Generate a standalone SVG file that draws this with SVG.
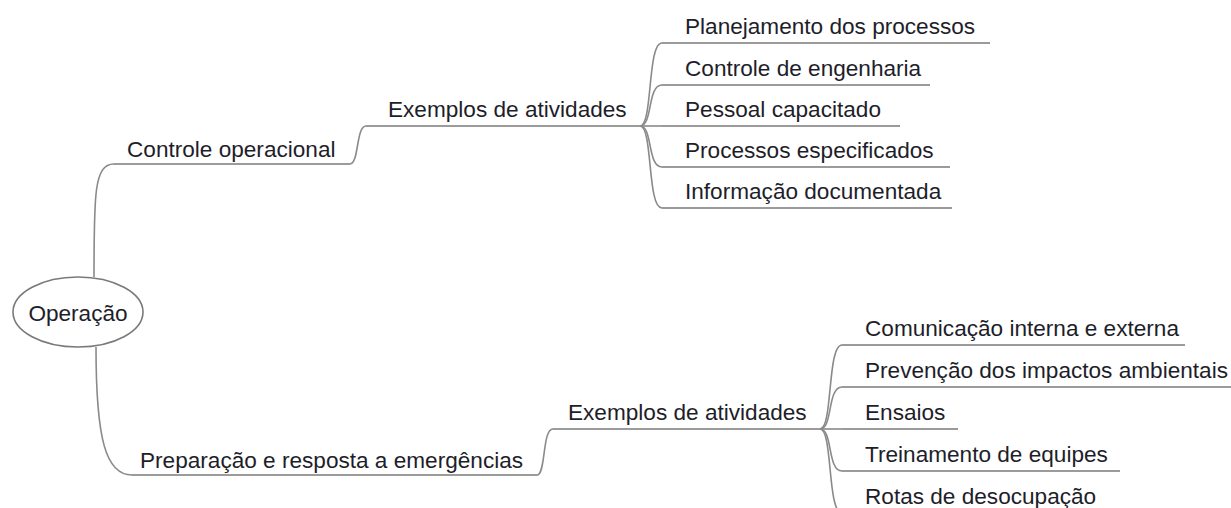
<svg xmlns="http://www.w3.org/2000/svg" width="1231" height="508" viewBox="0 0 1231 508">
<style>
text{font-family:"Liberation Sans",Arial,sans-serif;font-size:22.6px;fill:#1e1e2a}
.ln{fill:none;stroke:#8a8a8a;stroke-width:1.6}
.ul{fill:none;stroke:#7a7a7a;stroke-width:1.6}
</style>
<rect width="1231" height="508" fill="#ffffff"/>
<g id="connectors">
<path class="ln" d="M94,277 C94,195 94,164 114,164"/>
<path class="ln" d="M350,164 C359,164 356,126 366,126"/>
<path class="ln" d="M640,126 C653,126 647,43 662,43"/>
<path class="ln" d="M640,126 C653,126 647,85 662,85"/>
<path class="ln" d="M640,126 L662,126"/>
<path class="ln" d="M640,126 C653,126 647,167 662,167"/>
<path class="ln" d="M640,126 C653,126 647,208 662,208"/>
<path class="ln" d="M96,347 C96,440 106,475 132,475"/>
<path class="ln" d="M537,475 C546,475 542,429 553,429"/>
<path class="ln" d="M820,429 C833,429 827,345 842,345"/>
<path class="ln" d="M820,429 C833,429 827,387 842,387"/>
<path class="ln" d="M820,429 L842,429"/>
<path class="ln" d="M820,429 C833,429 827,471 842,471"/>
<path class="ln" d="M820,429 C833,429 827,513 842,513"/>
</g>
<g id="root">
<ellipse cx="78" cy="312" rx="65" ry="35" fill="#ffffff" stroke="#7a7a7a" stroke-width="1.6"/>
<text x="78" y="321" text-anchor="middle">Operação</text>
</g>
<g id="controle">
<path class="ul" d="M114,164 H350"/>
<text x="127" y="157">Controle operacional</text>
</g>
<g id="exemplos1">
<path class="ul" d="M366,126 H640"/>
<text x="388" y="117">Exemplos de atividades</text>
</g>
<g id="c1"><path class="ul" d="M662,43 H990"/><text x="685" y="34">Planejamento dos processos</text></g>
<g id="c2"><path class="ul" d="M662,85 H930"/><text x="685" y="76">Controle de engenharia</text></g>
<g id="c3"><path class="ul" d="M662,126 H900"/><text x="685" y="117">Pessoal capacitado</text></g>
<g id="c4"><path class="ul" d="M662,167 H950"/><text x="685" y="158">Processos especificados</text></g>
<g id="c5"><path class="ul" d="M662,208 H952"/><text x="685" y="199">Informação documentada</text></g>
<g id="preparacao">
<path class="ul" d="M132,475 H537"/>
<text x="140" y="468">Preparação e resposta a emergências</text>
</g>
<g id="exemplos2">
<path class="ul" d="M553,429 H820"/>
<text x="568" y="420">Exemplos de atividades</text>
</g>
<g id="d1"><path class="ul" d="M842,345 H1185"/><text x="865" y="336">Comunicação interna e externa</text></g>
<g id="d2"><path class="ul" d="M842,387 H1231"/><text x="865" y="378">Prevenção dos impactos ambientais</text></g>
<g id="d3"><path class="ul" d="M842,429 H958"/><text x="865" y="420">Ensaios</text></g>
<g id="d4"><path class="ul" d="M842,471 H1120"/><text x="865" y="462">Treinamento de equipes</text></g>
<g id="d5"><path class="ul" d="M842,513 H1100"/><text x="865" y="504">Rotas de desocupação</text></g>
</svg>
